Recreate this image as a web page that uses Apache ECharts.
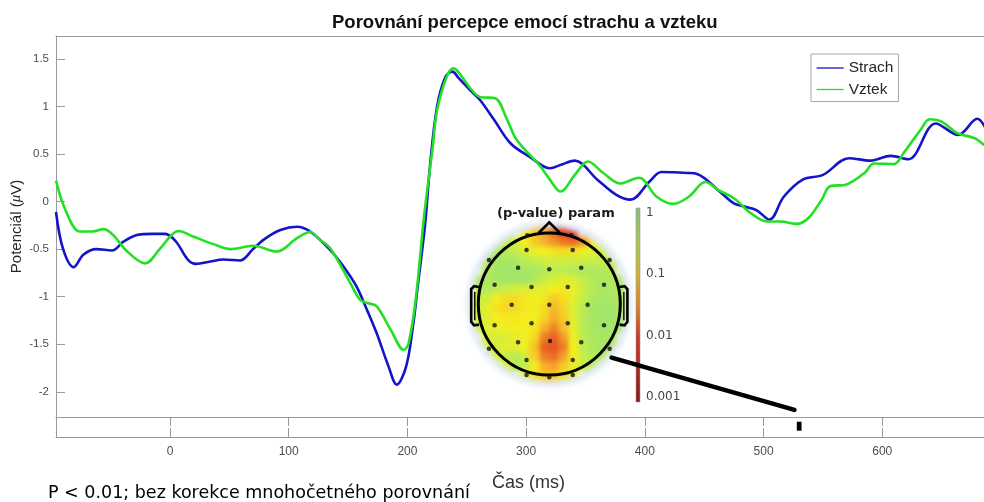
<!DOCTYPE html>
<html>
<head>
<meta charset="utf-8">
<title>Porovnání percepce emocí strachu a vzteku</title>
<script src="https://cdn.jsdelivr.net/npm/echarts@6/dist/echarts.min.js"></script>
<style>
  html, body { margin: 0; padding: 0; background: #fff; overflow: hidden; }
  #wrap { position: relative; width: 984px; height: 502px; overflow: hidden; }
  /* the plotting area continues a little past the right edge of the figure */
  #topo, #main { position: absolute; left: 0; top: 0; width: 1010px; height: 502px; }
  #topo { filter: blur(2.4px); }
</style>
</head>
<body>
<div id="wrap"><div id="topo"></div><div id="main"></div></div>
<script>
// ---- ERP waveforms (time in ms, potential in µV) ----
const strachTime = [-96, -90, -81, -73, -62, -49, -39, -27, -15, -4, 5, 15, 22, 34, 45, 59, 70, 79, 93, 107,
  118, 135, 146, 157, 166, 174, 184, 191, 199, 205, 209, 215, 219, 225, 232, 238, 243, 253, 261, 273,
  287, 303, 320, 330, 341, 360, 376, 388, 404, 414, 436, 444, 463, 475, 483, 494, 505, 517, 533, 550,
  572, 590, 607, 622, 645, 664, 680, 690, 700];
const strachValues = [-0.11, -0.50, -0.69, -0.56, -0.50, -0.515, -0.42, -0.35, -0.34, -0.34, -0.42, -0.61, -0.655, -0.63, -0.61, -0.62, -0.50, -0.40, -0.30, -0.265,
  -0.315, -0.51, -0.68, -0.89, -1.14, -1.38, -1.73, -1.925, -1.73, -1.28, -0.86, -0.23, 0.37, 1.0, 1.31, 1.365, 1.30, 1.17, 1.07, 0.86,
  0.61, 0.47, 0.35, 0.39, 0.43, 0.23, 0.07, 0.02, 0.21, 0.31, 0.30, 0.29, 0.105, -0.02, -0.05, -0.09, -0.19, 0.05, 0.23, 0.28,
  0.455, 0.43, 0.48, 0.445, 0.82, 0.70, 0.87, 0.72, 0.60];

const vztekTime = [-96, -88, -76, -65, -56, -48, -36, -21, -8, 0, 7, 20, 36, 51, 70, 90, 107, 118, 126, 135,
  152, 160, 167, 174, 186, 197, 201, 207, 214, 221, 225, 233, 239, 246, 253, 261, 274, 284, 292, 312,
  320, 329, 341, 352, 365, 379, 395, 410, 424, 437, 451, 462, 475, 489, 503, 514, 528, 538, 549, 556,
  570, 585, 593, 610, 618, 632, 640, 650, 663, 678, 686, 700];
const vztekValues = [0.22, -0.09, -0.315, -0.315, -0.29, -0.35, -0.525, -0.65, -0.49, -0.37, -0.31, -0.37, -0.445, -0.50, -0.465, -0.525, -0.385, -0.32, -0.40, -0.49,
  -0.86, -1.03, -1.07, -1.10, -1.35, -1.56, -1.49, -1.03, -0.16, 0.54, 0.96, 1.31, 1.40, 1.31, 1.19, 1.10, 1.085, 0.86, 0.65, 0.37,
  0.23, 0.105, 0.28, 0.42, 0.30, 0.19, 0.25, 0.05, -0.025, 0.05, 0.205, 0.12, 0.035, -0.12, -0.21, -0.21, -0.235, -0.17, 0.02, 0.16,
  0.18, 0.30, 0.40, 0.395, 0.51, 0.75, 0.865, 0.84, 0.72, 0.665, 0.595, 0.52];

const timeTicks = [0, 100, 200, 300, 400, 500, 600];
const potentialTicks = [-2, -1.5, -1, -0.5, 0, 0.5, 1, 1.5];

// significant time window (P < 0.01), ms
const significantWindows = [[528, 532]];
// link from the scalp map to the significant window: [ms, µV]
const linkFrom = [372, -1.64];
const linkTo = [526, -2.19];

// ---- scalp map: -log10(p), rows from front (top) to back, columns left to right ----
const topoLogP = [
  [null, null, null, null, null, 1.0, 1.3, 1.6, 2.0, 2.4, 2.5, null, null, null, null, null],
  [null, null, null, 0.5, 0.7, 1.0, 1.3, 1.5, 1.7, 1.9, 2.0, 1.7, 1.1, null, null, null],
  [null, null, 0.3, 0.4, 0.5, 0.7, 0.9, 1.0, 1.1, 1.15, 1.1, 0.95, 0.8, 0.6, null, null],
  [null, 0.3, 0.25, 0.25, 0.3, 0.4, 0.5, 0.6, 0.65, 0.6, 0.6, 0.6, 0.55, 0.5, 0.45, null],
  [null, 0.35, 0.25, 0.2, 0.2, 0.25, 0.3, 0.35, 0.45, 0.45, 0.35, 0.3, 0.3, 0.35, 0.4, null],
  [0.3, 0.3, 0.25, 0.2, 0.2, 0.2, 0.3, 0.55, 0.7, 0.8, 0.75, 0.5, 0.35, 0.3, 0.3, 0.3],
  [0.35, 0.35, 0.45, 0.6, 0.7, 0.75, 0.8, 0.85, 1.0, 1.05, 0.9, 0.6, 0.4, 0.3, 0.3, 0.3],
  [0.5, 0.65, 1.0, 1.15, 1.15, 1.05, 1.0, 1.05, 1.3, 1.15, 0.85, 0.5, 0.3, 0.25, 0.25, 0.3],
  [0.6, 0.85, 1.1, 1.2, 1.15, 1.05, 1.0, 1.15, 1.45, 1.2, 0.75, 0.4, 0.25, 0.2, 0.2, 0.25],
  [0.55, 0.75, 1.0, 1.05, 1.05, 1.0, 0.95, 1.2, 1.55, 1.3, 0.8, 0.4, 0.25, 0.2, 0.2, 0.25],
  [0.65, 0.8, 0.9, 0.95, 1.0, 1.0, 1.05, 1.5, 1.8, 1.4, 0.85, 0.4, 0.25, 0.2, 0.2, 0.25],
  [null, 0.7, 0.7, 0.75, 0.85, 0.95, 1.15, 1.85, 2.05, 1.65, 0.95, 0.45, 0.3, 0.25, 0.3, null],
  [null, 0.6, 0.65, 0.8, 0.85, 0.95, 1.35, 2.05, 2.15, 1.85, 1.0, 0.5, 0.3, 0.25, 0.3, null],
  [null, null, 0.7, 0.5, 0.4, 0.7, 1.25, 1.85, 1.95, 1.6, 1.0, 0.55, 0.35, 0.3, null, null],
  [null, null, null, 0.8, 0.35, 0.45, 1.0, 1.5, 1.6, 1.3, 0.9, 0.55, 0.4, null, null, null],
  [null, null, null, null, null, 0.9, 1.1, 1.3, 1.3, 1.1, 0.8, null, null, null, null, null]
];

// electrode positions in head units (radius 1, nose up)
const electrodePositions = [
  [-0.31, 0.97], [0.31, 0.97],
  [-0.32, 0.76], [0.33, 0.76],
  [-0.85, 0.62], [-0.44, 0.51], [0.0, 0.49], [0.45, 0.51], [0.85, 0.62],
  [-0.77, 0.27], [-0.25, 0.24], [0.26, 0.24], [0.77, 0.27],
  [-0.53, -0.01], [0.0, -0.01], [0.54, -0.01],
  [-0.77, -0.30], [-0.25, -0.27], [0.26, -0.27], [0.77, -0.30],
  [-0.44, -0.54], [0.01, -0.52], [0.45, -0.54],
  [-0.85, -0.63], [0.85, -0.63],
  [-0.32, -0.79], [0.33, -0.79],
  [-0.32, -1.0], [0.0, -1.03], [0.33, -1.0]
];

// colour bar: log10(p) positions and their labels
const cbarTickValues = [-3, -2, -1, 0];
const cbarTickLabels = ['0.001', '0.01', '0.1', '1'];

// head drawing (outline shapes in head units)
const noseOutline = [[-0.15, 1.0], [0, 1.15], [0.15, 1.0]];
const leftEar = [[-0.99, 0.24], [-1.06, 0.25], [-1.10, 0.21], [-1.10, -0.25], [-1.06, -0.30], [-0.99, -0.29]];
const leftEarInner = [[-1.05, 0.17], [-1.05, -0.23]];
const mirror = pts => pts.map(p => [-p[0], p[1]]);

const FONT = '"Liberation Sans", Arial, sans-serif';
const FONT2 = '"DejaVu Sans", Verdana, sans-serif';

const pMapColors = ['#8ce07e', '#c4ee4a', '#f4ee1e', '#f6b02a', '#ec6624', '#d42a1c', '#8c0c0c'];

// ---- scalp map colour field (separate, softened layer) ----
const topoChart = echarts.init(document.getElementById('topo'), null, { renderer: 'canvas' });
const nRows = topoLogP.length, nCols = topoLogP[0].length;
const heatData = [];
topoLogP.forEach((row, r) => row.forEach((v, c) => {
  if (v !== null) heatData.push([c, nRows - 1 - r, v]);
}));
const idx = n => Array.from({ length: n }, (_, i) => i);

const fixedGrid = g => Object.assign({ outerBoundsMode: 'none', containLabel: false }, g);
const HEAD_GRID = fixedGrid({ left: 460.55, top: 215.25, width: 177.5, height: 177.5 });

topoChart.setOption({
  animation: false,
  backgroundColor: 'transparent',
  grid: [
    HEAD_GRID,
    fixedGrid({ left: 472.6, top: 227.3, width: 153.4, height: 153.4 })
  ],
  xAxis: [
    { gridIndex: 0, type: 'value', min: -1.25, max: 1.25, show: false },
    { gridIndex: 1, type: 'category', data: idx(nCols), show: false }
  ],
  yAxis: [
    { gridIndex: 0, type: 'value', min: -1.25, max: 1.25, show: false },
    { gridIndex: 1, type: 'category', data: idx(nRows), show: false }
  ],
  visualMap: {
    show: false, type: 'continuous', min: 0, max: 3, seriesIndex: 1,
    inRange: { color: pMapColors }
  },
  series: [
    {
      type: 'custom', xAxisIndex: 0, yAxisIndex: 0, data: [[0, 0]], z: 5, silent: true,
      renderItem: function (params, api) {
        const c = api.coord([0, 0]);
        const e = api.coord([1.125, 1.125]);
        return {
          type: 'ellipse',
          shape: { cx: c[0], cy: c[1], rx: e[0] - c[0], ry: c[1] - e[1] },
          style: { fill: 'none', stroke: '#e2eaf7', lineWidth: 6.5 }
        };
      }
    },
    {
      type: 'heatmap', xAxisIndex: 1, yAxisIndex: 1, data: heatData, z: 0,
      itemStyle: { borderWidth: 0 }, silent: true
    }
  ]
});

// ---- main figure ----
const chart = echarts.init(document.getElementById('main'), null, { renderer: 'canvas' });

const lineAxis = { show: true, onZero: false, lineStyle: { color: '#9a9a9a', width: 1 } };

chart.setOption({
  animation: false,
  backgroundColor: 'transparent',
  textStyle: { fontFamily: FONT },
  title: {
    text: 'Porovnání percepce emocí strachu a vzteku',
    left: 332, top: 13, padding: 0,
    textStyle: { fontSize: 18.5, fontWeight: 'bold', color: '#111', fontFamily: FONT }
  },
  legend: {
    data: ['Strach', 'Vztek'],
    orient: 'vertical', left: 811, top: 54,
    padding: [6, 5, 4, 5], itemWidth: 27, itemHeight: 14, itemGap: 5.5,
    borderColor: '#a8a8a8', borderWidth: 1, backgroundColor: '#fff',
    itemStyle: { opacity: 0 },
    lineStyle: { width: 1.3 },
    textStyle: { fontSize: 15.5, color: '#262626', fontFamily: FONT }
  },
  grid: [
    fixedGrid({ left: 56, top: 36, width: 945, height: 381 }),
    fixedGrid({ left: 56, top: 417, width: 945, height: 20 }),
    HEAD_GRID,
    fixedGrid({ left: 636, top: 208, width: 4, height: 194 })
  ],
  xAxis: [
    {
      gridIndex: 0, type: 'value', min: -96, max: 700, position: 'top',
      axisLine: lineAxis,
      axisTick: { show: false }, axisLabel: { show: false }, splitLine: { show: false }
    },
    {
      gridIndex: 1, type: 'value', min: -96, max: 700, position: 'bottom',
      axisLine: lineAxis,
      axisTick: { show: true, inside: true, length: 9, customValues: timeTicks, lineStyle: { color: '#9a9a9a' } },
      axisLabel: { show: true, customValues: timeTicks, fontSize: 12, color: '#4d4d4d', margin: 9 },
      splitLine: { show: false },
      name: 'Čas (ms)', nameLocation: 'middle', nameGap: 37, nameMoveOverlap: false,
      nameTextStyle: { fontSize: 18, color: '#333', fontFamily: FONT }
    },
    {
      gridIndex: 1, type: 'value', min: -96, max: 700, position: 'top',
      axisLine: lineAxis,
      axisTick: { show: true, inside: true, length: 9, customValues: timeTicks, lineStyle: { color: '#9a9a9a' } },
      axisLabel: { show: false }, splitLine: { show: false }
    },
    { gridIndex: 2, type: 'value', min: -1.25, max: 1.25, show: false },
    { gridIndex: 3, type: 'value', min: 0, max: 1, show: false }
  ],
  yAxis: [
    {
      gridIndex: 0, type: 'value', min: -2.265, max: 1.74,
      axisLine: lineAxis,
      axisTick: { show: true, inside: true, length: 9, customValues: potentialTicks, lineStyle: { color: '#9a9a9a' } },
      axisLabel: { show: true, customValues: potentialTicks, fontSize: 11.5, color: '#4d4d4d', margin: 7 },
      splitLine: { show: false },
      name: 'Potenciál ({i|μ}V)', nameLocation: 'middle', nameGap: 32, nameMoveOverlap: false,
      nameTextStyle: {
        fontSize: 15, color: '#262626', fontFamily: FONT,
        rich: { i: { fontSize: 15, fontStyle: 'italic', color: '#262626', fontFamily: '"Liberation Serif", serif' } }
      }
    },
    {
      gridIndex: 1, type: 'value', min: 0, max: 1,
      axisLine: lineAxis,
      axisTick: { show: false }, axisLabel: { show: false }, splitLine: { show: false }
    },
    { gridIndex: 2, type: 'value', min: -1.25, max: 1.25, show: false },
    {
      gridIndex: 3, type: 'value', min: -3.08, max: 0.08, position: 'right',
      axisLine: { show: false, onZero: false },
      axisTick: { show: false },
      axisLabel: {
        show: true, customValues: cbarTickValues, margin: 6, fontSize: 12, color: '#444', fontFamily: FONT2,
        formatter: v => cbarTickLabels[cbarTickValues.indexOf(Math.round(v))]
      },
      splitLine: { show: false }
    }
  ],
  graphic: [
    {
      type: 'text', left: 48, top: 484,
      style: { text: 'P < 0.01; bez korekce mnohočetného porovnání', fontSize: 17.5, fontFamily: FONT2, fill: '#000' }
    },
    {
      type: 'text', left: 497, top: 207, z: 20,
      style: { text: '(p-value) param', fontSize: 13, fontWeight: 'bold', fontFamily: FONT2, fill: '#1a1a1a' }
    }
  ],
  series: [
    {
      name: 'Strach', type: 'line', xAxisIndex: 0, yAxisIndex: 0,
      data: strachTime.map((t, i) => [t, strachValues[i]]),
      smooth: 0.35, symbol: 'none', z: 3,
      lineStyle: { color: '#1414c8', width: 2.6 }, itemStyle: { color: '#1414c8' }
    },
    {
      name: 'Vztek', type: 'line', xAxisIndex: 0, yAxisIndex: 0,
      data: vztekTime.map((t, i) => [t, vztekValues[i]]),
      smooth: 0.35, symbol: 'none', z: 4,
      lineStyle: { color: '#22e022', width: 2.6 }, itemStyle: { color: '#22e022' }
    },
    {
      type: 'custom', xAxisIndex: 1, yAxisIndex: 1, data: significantWindows, silent: true,
      renderItem: function (params, api) {
        const a = api.coord([api.value(0), 0.315]);
        const b = api.coord([api.value(1), 0.765]);
        return { type: 'rect', shape: { x: a[0], y: b[1], width: b[0] - a[0], height: a[1] - b[1] }, style: { fill: '#000' } };
      }
    },
    {
      type: 'custom', xAxisIndex: 3, yAxisIndex: 2, data: [[0, 0]], silent: true, z: 6,
      renderItem: function (params, api) {
        const c = api.coord([0, 0]);
        const e = api.coord([1, 1]);
        const pts = arr => arr.map(p => api.coord(p));
        const stroke = { fill: 'none', stroke: '#000', lineWidth: 2.6 };
        return {
          type: 'group', children: [
            { type: 'ellipse', shape: { cx: c[0], cy: c[1], rx: e[0] - c[0], ry: c[1] - e[1] }, style: { fill: 'none', stroke: '#000', lineWidth: 3 } },
            { type: 'polyline', shape: { points: pts(noseOutline) }, style: stroke },
            { type: 'polyline', shape: { points: pts(leftEar) }, style: stroke },
            { type: 'polyline', shape: { points: pts(mirror(leftEar)) }, style: stroke },
            { type: 'polyline', shape: { points: pts(leftEarInner) }, style: { fill: 'none', stroke: '#000', lineWidth: 1.4 } },
            { type: 'polyline', shape: { points: pts(mirror(leftEarInner)) }, style: { fill: 'none', stroke: '#000', lineWidth: 1.4 } }
          ]
        };
      }
    },
    {
      type: 'scatter', xAxisIndex: 3, yAxisIndex: 2, data: electrodePositions, silent: true, z: 7,
      symbol: 'circle', symbolSize: 4.5, itemStyle: { color: '#111' }
    },
    {
      type: 'custom', xAxisIndex: 4, yAxisIndex: 3, data: [[0.5, -1.5]], silent: true, z: 5,
      renderItem: function (params, api) {
        const tl = api.coord([0, 0.08]);
        const br = api.coord([1, -3.08]);
        return {
          type: 'rect',
          shape: { x: tl[0], y: tl[1], width: br[0] - tl[0], height: br[1] - tl[1] },
          style: {
            fill: new echarts.graphic.LinearGradient(0, 0, 0, 1, [
              { offset: 0, color: '#86bc7c' },
              { offset: 0.18, color: '#acc455' },
              { offset: 0.34, color: '#ceb232' },
              { offset: 0.5, color: '#d6882c' },
              { offset: 0.66, color: '#cc3a28' },
              { offset: 1, color: '#861818' }
            ]),
            stroke: '#9a9a9a', lineWidth: 0.6
          }
        };
      }
    },
    {
      type: 'line', xAxisIndex: 0, yAxisIndex: 0, data: [linkFrom, linkTo], silent: true, z: 10,
      symbol: 'none', lineStyle: { color: '#000', width: 4.5, cap: 'round' }
    }
  ]
});
</script>
</body>
</html>
